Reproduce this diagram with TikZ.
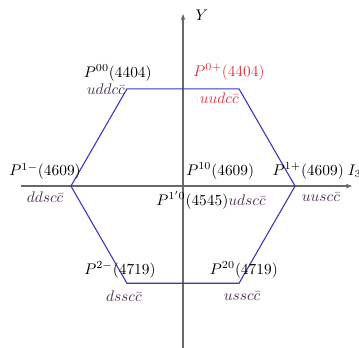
\documentclass[tikz,border=0pt]{standalone}
\usepackage{amsmath,amssymb}
\usepackage{xcolor}
\usetikzlibrary{arrows.meta, positioning}
\definecolor{HexBlue}{RGB}{55,55,185}
\definecolor{AxisGray}{RGB}{105,105,105}
\definecolor{QuarkPurple}{RGB}{75,45,85}
\definecolor{AccentRed}{RGB}{222,55,65}

\begin{document}
\begin{tikzpicture}[
  state/.style={font=\normalsize, inner sep=0pt},
  quark/.style={font=\normalsize, QuarkPurple, inner sep=0pt},
  axis/.style={-{Stealth[length=4pt]}, AxisGray, line width=0.9pt},
  hexline/.style={HexBlue, line width=0.7pt},
]
\useasboundingbox (-4.18,-3.68) rectangle (4.02,4.25);
% Axes
\coordinate (xl) at (-3.70,0);
\coordinate (xr) at (3.86,0);
\coordinate (yb) at (0,-3.70);
\coordinate (yt) at (0,3.93);
\draw[axis] (xl) -- (xr);
\draw[axis] (yb) -- (yt);
\node[state, anchor=west] (ylab) at (0.28,3.91) {$Y$};
\node[state, anchor=west] (xlab) at (3.76,0.34) {$I_3$};
% Hexagon corners
\coordinate (tl) at (-1.28,2.22);
\coordinate (tr) at (1.28,2.22);
\coordinate (rr) at (2.56,0);
\coordinate (br) at (1.28,-2.22);
\coordinate (bl) at (-1.28,-2.22);
\coordinate (ll) at (-2.56,0);
\draw[hexline] (tl) -- (tr) -- (rr) -- (br) -- (bl) -- (ll) -- cycle;
% States
\node[state] (p00) at (-1.49,2.58) {$P^{00}(4404)$};
\node[quark, anchor=east] (q00) at (-1.32,2.22) {$uddc\bar{c}$};
\node[state, AccentRed] (p0p) at (1.05,2.60) {$P^{0+}(4404)$};
\node[quark, AccentRed] (q0p) at (0.83,2.01) {$uudc\bar{c}$};
\node[state] (p1m) at (-3.15,0.33) {$P^{1-}(4609)$};
\node[quark] (q1m) at (-3.15,-0.25) {$ddsc\bar{c}$};
\node[state] (p10) at (0.85,0.35) {$P^{10}(4609)$};
\node[state] (p1p) at (2.86,0.35) {$P^{1+}(4609)$};
\node[quark] (q1p) at (3.15,-0.25) {$uusc\bar{c}$};
\node[state] (p1x) at (0.64,-0.32) {$P^{1'0}(4545)\textcolor{QuarkPurple}{udsc\bar{c}}$};
\node[state] (p2m) at (-1.44,-1.92) {$P^{2-}(4719)$};
\node[quark] (q2m) at (-1.35,-2.51) {$dssc\bar{c}$};
\node[state] (p20) at (1.39,-1.92) {$P^{20}(4719)$};
\node[quark] (q20) at (1.35,-2.51) {$ussc\bar{c}$};
\end{tikzpicture}
\end{document}
